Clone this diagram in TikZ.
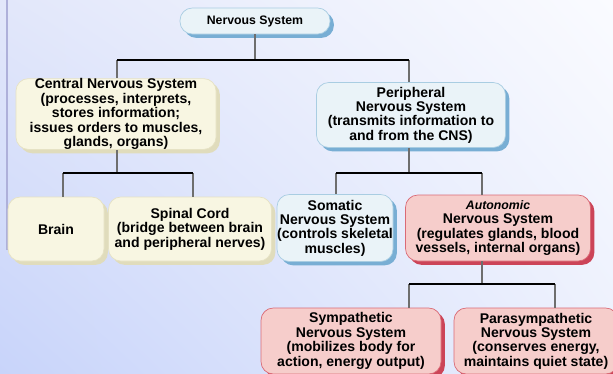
\documentclass[tikz,border=0pt]{standalone}
\usepackage{fontspec}
\setmainfont{Liberation Sans}
\usepackage{tikz}
\usetikzlibrary{shadows, shadings}
\definecolor{bluefill}{HTML}{EAF3F8}
\definecolor{blueline}{HTML}{A9CDE2}
\definecolor{blueshade}{HTML}{78AED4}
\definecolor{creamfill}{HTML}{F8F6E2}
\definecolor{creamline}{HTML}{E6E2C4}
\definecolor{creamshade}{HTML}{E0DCBC}
\definecolor{pinkfill}{HTML}{F6CDCB}
\definecolor{pinkline}{HTML}{DA6A76}
\definecolor{pinkshade}{HTML}{CC4458}
\definecolor{stemgray}{HTML}{6E6E6E}
\definecolor{sidebar}{HTML}{AEB0DA}
\definecolor{bgul}{HTML}{E2E7FA}
\definecolor{bgll}{HTML}{C8D4FA}
\definecolor{bgur}{HTML}{FAFBFF}
\definecolor{bglr}{HTML}{ECF0FD}

\tikzset{
	box/.style={rectangle, rounded corners=7pt, align=center, inner sep=0pt,
		font=\fontsize{8}{8.2}\selectfont\bfseries},
	sz/.style 2 args={minimum width=#1*0.02cm, minimum height=#2*0.02cm},
	bluebox/.style={box, fill=bluefill, draw=blueline, line width=0.4pt,
		drop shadow={shadow xshift=2.2pt, shadow yshift=-2.2pt, fill=blueshade, opacity=1}},
	creambox/.style={box, fill=creamfill, draw=creamline, line width=0.4pt,
		drop shadow={shadow xshift=2.2pt, shadow yshift=-2.2pt, fill=creamshade, opacity=1}},
	pinkbox/.style={box, fill=pinkfill, draw=pinkline, line width=0.4pt,
		drop shadow={shadow xshift=2.2pt, shadow yshift=-2.2pt, fill=pinkshade, opacity=1}},
	stem/.style={stemgray, line width=0.7pt},
	bar/.style={black, line width=1.1pt}
}

\begin{document}
\begin{tikzpicture}[x=0.02cm, y=-0.02cm]
		\useasboundingbox (0,0) rectangle (613,373);
		\clip (0,0) rectangle (613,373);
		\shade[upper left=bgul, lower left=bgll, upper right=bgur, lower right=bglr]
			(0,0) rectangle (613,373);
		\draw [sidebar, line width=1.4pt] (7,0)--(7,250);

		% boxes
		\node [bluebox, sz={150}{26}, font=\fontsize{7}{8}\selectfont\bfseries] (ns) at (255,21) {Nervous System};
		\node [creambox, sz={200}{70}] (cns) at (116,114) {Central Nervous System\\(processes, interprets,\\stores information;\\issues orders to muscles,\\glands, organs)};
		\node [bluebox, sz={189}{65}] (pns) at (411,115) {Peripheral\\Nervous System\\(transmits information to\\and from the CNS)};
		\node [creambox, sz={96}{64}] (brain) at (56,229) {Brain};
		\node [creambox, sz={163}{64}] (spinal) at (190,229) {Spinal Cord\\(bridge between brain\\and peripheral nerves)};
		\node [bluebox, sz={116}{67}] (somatic) at (335,228) {Somatic\\Nervous System\\(controls skeletal\\muscles)};
		\node [pinkbox, sz={185}{66}] (auto) at (498,228) {{\fontsize{7}{8}\selectfont\itshape Autonomic}\\Nervous System\\(regulates glands, blood\\vessels, internal organs)};
		\node [pinkbox, sz={180}{66}] (sym) at (351,341) {Sympathetic\\Nervous System\\(mobilizes body for\\action, energy output)};
		\node [pinkbox, sz={164}{66}] (para) at (536,341) {Parasympathetic\\Nervous System\\(conserves energy,\\maintains quiet state)};

		% connectors
		\coordinate (b1m) at (255,60);
		\coordinate (b1l) at (117,60);
		\coordinate (b1r) at (409,60);
		\coordinate (b2m) at (117,173);
		\coordinate (b2l) at (63,173);
		\coordinate (b2r) at (193,173);
		\coordinate (b3m) at (409,173);
		\coordinate (b3l) at (336,173);
		\coordinate (b3r) at (482,173);
		\coordinate (b4m) at (482,284);
		\coordinate (b4l) at (409,284);
		\coordinate (b4r) at (555,284);
		\foreach \p/\j in {ns/b1m, cns/b2m, pns/b3m, auto/b4m}{
			\draw [stem] (\p.south -| \j)--(\j);
		}
		\foreach \c/\n in {b1l/cns, b1r/pns, b2l/brain, b2r/spinal, b3l/somatic, b3r/auto, b4l/sym, b4r/para}{
			\draw [stem] (\c)--(\c |- \n.north);
		}
		\foreach \l/\r in {b1l/b1r, b2l/b2r, b3l/b3r, b4l/b4r}{
			\draw [bar] (\l)--(\r);
		}
	\end{tikzpicture}
\end{document}
